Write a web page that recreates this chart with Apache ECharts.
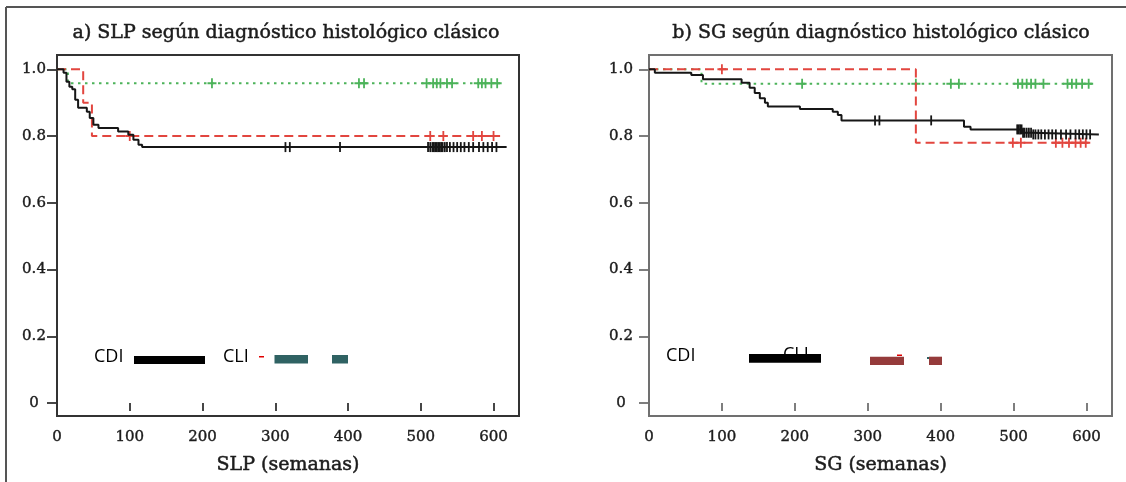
<!DOCTYPE html>
<html>
<head>
<meta charset="utf-8">
<script src="https://cdn.jsdelivr.net/npm/echarts@6/dist/echarts.min.js"></script>
<style>
html, body { margin: 0; padding: 0; background: #fff; }
#charts { width: 1126px; height: 482px; }
</style>
</head>
<body>
<div id="charts"></div>
<script>
// tick labels
var xTicks = [0, 100, 200, 300, 400, 500, 600];
var yTicks = [0, 0.2, 0.4, 0.6, 0.8, 1.0];

// a) SLP: Kaplan-Meier steps [semanas, proporcion]
var slpBlack = [[0, 1], [9, 0.99], [13, 0.963], [17, 0.948], [21, 0.94], [25, 0.909], [29, 0.885],
    [41, 0.873], [45, 0.854], [50, 0.834], [57, 0.824], [84, 0.814], [98, 0.804], [105, 0.789],
    [112, 0.774], [117, 0.767], [618, 0.767]];
var slpRed = [[0, 1], [36, 0.9], [48, 0.8], [609, 0.8]];
var slpGreen = [[0, 1], [15, 0.958], [609, 0.958]];
var slpBlackCens = [314, 320, 389, 510, 513, 516, 518, 520, 522, 524, 526, 528, 530, 533, 536, 540,
    545, 550, 555, 560, 566, 572, 580, 586, 592, 598, 604];
var slpRedCens = [100, 513, 531, 572, 584, 600];
var slpGreenCens = [213, 415, 422, 508, 517, 522, 527, 536, 543, 579, 584, 589, 597, 605];

// b) SG
var sgBlack = [[0, 1], [8, 0.99], [58, 0.983], [74, 0.97], [127, 0.96], [138, 0.945], [145, 0.929],
    [152, 0.913], [159, 0.9], [163, 0.889], [207, 0.881], [252, 0.873], [259, 0.863], [264, 0.847],
    [432, 0.828], [441, 0.82], [512, 0.81], [525, 0.805], [617, 0.805]];
var sgRed = [[0, 1], [366, 0.78], [608, 0.78]];
var sgGreen = [[0, 1], [72, 0.957], [608, 0.957]];
var sgBlackCens = [310, 316, 387, 505, 507, 509, 511, 513, 515, 518, 521, 524, 527, 530, 534, 538,
    543, 548, 553, 558, 565, 572, 578, 585, 590, 595, 600, 605];
var sgRedCens = [100, 499, 510, 558, 567, 576, 585, 592, 599];
var sgGreenCens = [210, 366, 414, 425, 506, 512, 518, 524, 530, 541, 574, 580, 586, 594, 603];

var BLACK = '#161616', RED = '#e2463f', GREEN = '#4cb35a';
var PLUS = 'path://M4,0h2v4h4v2h-4v4h-2v-4h-4v-2h4z';
var SERIF = 'DejaVu Serif';
var INK = '#1c1c1c';

function stepAt(curve, t) {
    var v = curve[0][1];
    for (var i = 0; i < curve.length; i++) {
        if (curve[i][0] <= t) v = curve[i][1];
    }
    return v;
}

function censPoints(curve, times) {
    return times.map(function (t) { return [t, stepAt(curve, t)]; });
}

function kmLine(idx, data, color, type) {
    return {
        type: 'line', xAxisIndex: idx, yAxisIndex: idx, data: data, step: 'end',
        showSymbol: false, silent: true,
        lineStyle: { color: color, width: 2, type: type }
    };
}

function censScatter(idx, data, color, symbol, size) {
    return {
        type: 'scatter', xAxisIndex: idx, yAxisIndex: idx, data: data,
        symbol: symbol, symbolSize: size, silent: true,
        itemStyle: { color: color, opacity: 1 }
    };
}

function xAxisFor(idx, name, color) {
    return {
        gridIndex: idx, type: 'value', min: 0, max: 635,
        name: name, nameLocation: 'middle', nameGap: 40,
        nameTextStyle: { fontFamily: SERIF, fontSize: 19, color: INK, textBorderColor: INK, textBorderWidth: 0.5 },
        axisLine: { show: false }, splitLine: { show: false },
        axisTick: { show: true, length: 8, customValues: xTicks, lineStyle: { color: color, width: 1.8 } },
        axisLabel: {
            customValues: xTicks, margin: 14, fontFamily: SERIF, fontSize: 15, color: INK,
            textBorderColor: INK, textBorderWidth: 0.4
        }
    };
}

function yAxisFor(idx, color, margin) {
    return {
        gridIndex: idx, type: 'value', min: -0.039, max: 1.043,
        axisLine: { show: false }, splitLine: { show: false },
        axisTick: { show: true, length: 10, customValues: yTicks, lineStyle: { color: color, width: 1.8 } },
        axisLabel: {
            customValues: yTicks, margin: margin, align: 'center',
            fontFamily: SERIF, fontSize: 15, color: INK, textBorderColor: INK, textBorderWidth: 0.4,
            formatter: function (v) { return v === 0 ? '0' : v.toFixed(1); }
        }
    };
}

function titleText(x, text) {
    return {
        type: 'text', x: x, y: 33,
        style: {
            text: text, font: '19px "DejaVu Serif"', fill: INK, stroke: INK, lineWidth: 0.5,
            textAlign: 'center', textVerticalAlign: 'middle'
        }
    };
}

function legendText(x, y, text) {
    return {
        type: 'text', x: x, y: y, z: 10,
        style: { text: text, font: '18px "Open Sans"', fill: '#000', textVerticalAlign: 'middle' }
    };
}

function block(x, y, w, h, color, z) {
    return { type: 'rect', z: z || 11, shape: { x: x, y: y, width: w, height: h }, style: { fill: color } };
}

var option = {
    animation: false,
    backgroundColor: '#fff',
    grid: [
        { left: 57, top: 55, width: 462, height: 361, show: true, borderColor: '#333', borderWidth: 2 },
        { left: 649, top: 55, width: 463, height: 361, show: true, borderColor: '#707070', borderWidth: 2 }
    ],
    xAxis: [xAxisFor(0, 'SLP (semanas)', '#333'), xAxisFor(1, 'SG (semanas)', '#707070')],
    yAxis: [yAxisFor(0, '#333', 23), yAxisFor(1, '#707070', 28)],
    series: [
        kmLine(0, slpGreen, GREEN, [2.5, 4.5]),
        kmLine(0, slpRed, RED, [9, 5]),
        kmLine(0, slpBlack, BLACK, 'solid'),
        censScatter(0, censPoints(slpGreen, slpGreenCens), GREEN, PLUS, [9, 10]),
        censScatter(0, censPoints(slpRed, slpRedCens), RED, PLUS, [9, 10]),
        censScatter(0, censPoints(slpBlack, slpBlackCens), BLACK, 'rect', [1.8, 10]),
        kmLine(1, sgGreen, GREEN, [2.5, 4.5]),
        kmLine(1, sgRed, RED, [9, 5]),
        kmLine(1, sgBlack, BLACK, 'solid'),
        censScatter(1, censPoints(sgGreen, sgGreenCens), GREEN, PLUS, [9, 10]),
        censScatter(1, censPoints(sgRed, sgRedCens), RED, PLUS, [9, 10]),
        censScatter(1, censPoints(sgBlack, sgBlackCens), BLACK, 'rect', [1.8, 10])
    ],
    graphic: {
        elements: [
            { type: 'line', shape: { x1: 6, y1: 7, x2: 1126, y2: 7 }, style: { stroke: '#555', lineWidth: 2 } },
            { type: 'line', shape: { x1: 6, y1: 7, x2: 6, y2: 482 }, style: { stroke: '#555', lineWidth: 2 } },
            titleText(286, 'a) SLP según diagnóstico histológico clásico'),
            titleText(881, 'b) SG según diagnóstico histológico clásico'),
            // overlaid legend, panel a
            legendText(94, 357, 'CDI'),
            block(134, 356, 71, 8, '#000'),
            legendText(223, 357, 'CLI'),
            block(259, 356, 5, 1.5, '#e00000'),
            block(274.5, 355, 33.5, 8.5, '#2f6263'),
            block(332, 355, 16, 8.5, '#2f6263'),
            // overlaid legend, panel b
            legendText(666, 356, 'CDI'),
            legendText(783, 355, 'CLI'),
            block(749, 354, 72, 8.7, '#000', 12),
            block(870, 356.7, 34, 8.3, '#953b3b'),
            block(929, 356.7, 13, 8.3, '#953b3b'),
            block(897, 354.5, 5, 1.5, '#e00000'),
            block(927, 357, 2, 2, '#2f6263')
        ]
    }
};

window.onload = function () {
    var myChart = echarts.init(document.getElementById('charts'));
    myChart.setOption(option);
};
</script>
</body>
</html>
